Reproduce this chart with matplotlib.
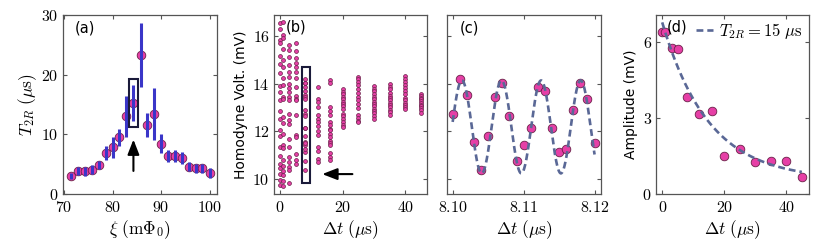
import numpy as np
import matplotlib
matplotlib.use("Agg")
import matplotlib.pyplot as plt
from matplotlib.ticker import FuncFormatter

plt.rcParams['mathtext.fontset'] = 'cm'
plt.rcParams['font.family'] = ['DejaVu Sans']

# ---------------- data ----------------
# (a) T2R vs flux detuning
xi = [71.4, 72.8, 74.3, 75.8, 77.2, 78.6, 80.0, 81.4, 82.8, 84.3, 85.8,
      87.1, 88.6, 90.0, 91.4, 92.8, 94.2, 95.7, 97.1, 98.5, 100.0]
t2r = [3.0, 3.85, 3.8, 4.1, 4.9, 6.9, 7.8, 9.5, 13.0, 15.2, 23.3,
       11.6, 13.4, 8.4, 6.4, 6.4, 6.1, 4.6, 4.3, 4.3, 3.5]
t2r_err = [0.5, 0.6, 0.8, 0.7, 0.7, 1.2, 1.8, 1.4, 3.4, 3.0, 5.3,
           2.0, 4.3, 1.6, 1.0, 1.0, 1.0, 0.8, 0.8, 0.8, 0.9]

# (b) homodyne voltage columns vs delay
dt_cols = [0, 1, 3, 5, 8, 12, 16, 20, 25, 30, 35, 40, 45]
v_col_0 = [16.55, 16.3, 15.85, 15.7, 15.15, 14.85, 14.45, 13.9, 13.65, 13.3,
           12.85, 12.5, 12.05, 11.8, 11.35, 10.95, 10.6, 10.45, 10.2, 9.95, 9.75]
v_col_1 = [16.6, 16.05, 15.95, 15.45, 15.0, 14.7, 14.25, 13.95, 13.45, 13.35,
           12.6, 12.35, 11.9, 11.4, 11.3, 10.8, 10.55, 10.3, 10.15, 9.9, 9.7]
v_col_3 = [15.62, 15.44, 15.13, 14.78, 14.49, 14.28, 14.0, 13.83, 13.65, 13.44,
           13.3, 12.74, 12.46, 12.31, 11.68, 11.33, 10.9, 10.7, 10.49, 10.35, 9.81]
v_col_5 = [15.71, 15.4, 15.09, 14.87, 14.7, 14.49, 14.25, 13.86, 13.5, 13.37,
           13.3, 12.67, 11.82, 11.75, 11.05, 10.8, 10.63]
v_col_8 = [12.74, 14.19, 13.54, 11.56, 10.38, 11.78, 13.43, 14.03, 12.65, 10.73,
           11.43, 12.15, 13.86, 13.71, 12.13, 11.12, 11.23, 12.88, 14.03, 13.34, 11.49]
v_col_12 = [13.86, 13.37, 13.23, 13.02, 12.67, 12.53, 12.39, 12.2, 12.0, 11.82,
            11.33, 11.16, 10.84, 10.7]
v_col_16 = [14.14, 14.02, 13.0, 12.85, 12.67, 12.38, 12.25, 12.1, 12.03, 11.9,
            11.75, 11.6, 11.5, 11.4, 11.06, 10.92, 10.77]
v_col_20 = [13.76, 13.67, 13.58, 13.44, 13.35, 13.25, 13.15, 13.05, 12.95, 12.74,
            12.62, 12.5, 12.4, 12.28, 12.17]
v_col_25 = [14.28, 14.18, 14.06, 13.93, 13.76, 13.6, 13.45, 13.3, 13.15, 12.96,
            12.67, 12.55, 12.45, 12.38]
v_col_30 = [13.9, 13.8, 13.68, 13.55, 13.45, 13.35, 13.25, 13.15, 13.05, 12.95,
            12.85, 12.75, 12.65, 12.53]
v_col_35 = [14.0, 13.88, 13.77, 13.6, 13.5, 13.4, 13.3, 13.2, 13.1, 13.0,
            12.9, 12.8, 12.67]
v_col_40 = [14.31, 14.2, 14.08, 13.95, 13.82, 13.7, 13.55, 13.4, 13.3, 13.2,
            13.1, 13.0, 12.92]
v_col_45 = [13.57, 13.5, 13.42, 13.35, 13.27, 13.2, 13.12, 13.05, 12.97, 12.9, 12.78]
v_cols = [v_col_0, v_col_1, v_col_3, v_col_5, v_col_8, v_col_12, v_col_16,
          v_col_20, v_col_25, v_col_30, v_col_35, v_col_40, v_col_45]

# (c) Ramsey fringe at dt ~ 8.1 us
dt_c = [8.100, 8.101, 8.102, 8.103, 8.104, 8.105, 8.106, 8.107, 8.108, 8.109,
        8.110, 8.111, 8.112, 8.113, 8.114, 8.115, 8.116, 8.117, 8.118, 8.119, 8.120]
v_c = v_col_8
fit_c_offset, fit_c_amp, fit_c_period, fit_c_t0 = 12.18, 1.96, 0.00558, 8.1013

# (d) fringe amplitude vs delay
dt_d = [0, 1, 3, 5, 8, 12, 16, 20, 25, 30, 35, 40, 45]
amp_d = [6.38, 6.38, 5.76, 5.7, 3.81, 3.15, 3.26, 1.48, 1.79, 1.28, 1.30, 1.30, 0.68]
fit_d_A, fit_d_T, fit_d_C = 6.2, 15.0, 0.56

# ---------------- style ----------------
PINK = '#e63fa6'
EDGE = '#6a2048'
DASH = '#5a6896'
ERR = '#3a36c8'
SPINE = '#555555'
MS = 6.2
DASHES = (2.6, 1.5)

fig = plt.figure(figsize=(8.31, 2.44), dpi=100)
H = 0.7336
B = 0.2049
ax_a = fig.add_axes([0.0758, B, 0.1853, H])
ax_b = fig.add_axes([0.3297, B, 0.1841, H])
ax_c = fig.add_axes([0.5379, B, 0.1853, H])
ax_d = fig.add_axes([0.7894, B, 0.1841, H])

mathfmt = FuncFormatter(lambda v, p: f'${v:g}$')
mathfmt2 = FuncFormatter(lambda v, p: f'${v:.2f}$')

for ax in (ax_a, ax_b, ax_c, ax_d):
    ax.tick_params(direction='in', top=True, right=True, labelsize=11.5,
                   length=3, width=0.8, color=SPINE, pad=3)
    ax.tick_params(axis='x', pad=4)
    for s in ax.spines.values():
        s.set_color(SPINE)
        s.set_linewidth(0.9)

# (a)
ax_a.errorbar(xi, t2r, yerr=t2r_err, fmt='none', ecolor=ERR, elinewidth=2.2,
              capsize=0, zorder=3)
ax_a.plot(xi, t2r, 'o', ms=MS, mfc=PINK, mec=EDGE, mew=0.6, zorder=2)
ax_a.set_xlim(69.8, 101.5)
ax_a.set_ylim(0, 30)
ax_a.set_xticks([70, 80, 90, 100])
ax_a.set_yticks([0, 10, 20, 30])
ax_a.xaxis.set_major_formatter(mathfmt)
ax_a.yaxis.set_major_formatter(mathfmt)
ax_a.set_xlabel(r'$\xi\ (\mathrm{m}\Phi_0)$', fontsize=12.5, labelpad=3)
ax_a.set_ylabel(r'$T_{2R}\ (\mu\mathrm{s})$', fontsize=12.5, labelpad=2)
ax_a.text(0.075, 0.97, '(a)', transform=ax_a.transAxes, fontsize=10.5, va='top')
ax_a.add_patch(plt.Rectangle((83.3, 11.2), 1.9, 8.1, fill=False, ec='#1a1a3a',
                             lw=1.5, zorder=4))
ax_a.annotate('', xy=(84.3, 9.6), xytext=(84.3, 3.4),
              arrowprops=dict(arrowstyle='-|>,head_width=0.35,head_length=0.9',
                              color='black', lw=1.5), zorder=5)

# (b)
for t, col in zip(dt_cols, v_cols):
    ax_b.plot([t] * len(col), col, 'o', ms=2.8, mfc=PINK, mec=EDGE, mew=0.5)
ax_b.set_xlim(-1.9, 46.9)
ax_b.set_ylim(9.35, 16.9)
ax_b.set_xticks([0, 20, 40])
ax_b.set_yticks([10, 12, 14, 16])
ax_b.xaxis.set_major_formatter(mathfmt)
ax_b.yaxis.set_major_formatter(mathfmt)
ax_b.set_xlabel(r'$\Delta t\ (\mu\mathrm{s})$', fontsize=12.5, labelpad=3)
ax_b.set_ylabel('Homodyne Volt. (mV)', fontsize=10, labelpad=3)
ax_b.text(0.075, 0.975, '(b)', transform=ax_b.transAxes, fontsize=10.5, va='top')
ax_b.add_patch(plt.Rectangle((7.0, 9.83), 2.5, 4.87, fill=False, ec='#1a1a3a',
                             lw=1.5, zorder=4))
ax_b.annotate('', xy=(12.6, 10.19), xytext=(24.0, 10.19),
              arrowprops=dict(arrowstyle='-|>,head_width=0.35,head_length=0.9',
                              color='black', lw=1.5), zorder=5)

# (c)
tc = np.linspace(8.100, 8.120, 400)
fit_c = fit_c_offset + fit_c_amp * np.cos(2 * np.pi * (tc - fit_c_t0) / fit_c_period)
ax_c.plot(dt_c, v_c, 'o', ms=MS, mfc=PINK, mec=EDGE, mew=0.6, zorder=2)
ax_c.plot(tc, fit_c, '--', color=DASH, lw=1.9, dashes=DASHES, zorder=3)
ax_c.set_xlim(8.0992, 8.1209)
ax_c.set_ylim(9.35, 16.9)
ax_c.set_xticks([8.10, 8.11, 8.12])
ax_c.set_yticks([10, 12, 14, 16])
ax_c.xaxis.set_major_formatter(mathfmt2)
ax_c.set_yticklabels([])
ax_c.set_xlabel(r'$\Delta t\ (\mu\mathrm{s})$', fontsize=12.5, labelpad=3)
ax_c.text(0.085, 0.97, '(c)', transform=ax_c.transAxes, fontsize=10.5, va='top')

# (d)
td = np.linspace(0, 45, 300)
fit_d = fit_d_A * np.exp(-td / fit_d_T) + fit_d_C
ax_d.plot(dt_d, amp_d, 'o', ms=MS, mfc=PINK, mec=EDGE, mew=0.6, zorder=2)
ax_d.plot(td, fit_d, '--', color=DASH, lw=1.9, dashes=DASHES, zorder=3,
          label=r'$T_{2R}=15\ \mu\mathrm{s}$')
ax_d.set_xlim(-2.0, 47.3)
ax_d.set_ylim(0, 7.05)
ax_d.set_xticks([0, 20, 40])
ax_d.set_yticks([0, 3, 6])
ax_d.xaxis.set_major_formatter(mathfmt)
ax_d.yaxis.set_major_formatter(mathfmt)
ax_d.set_xlabel(r'$\Delta t\ (\mu\mathrm{s})$', fontsize=12.5, labelpad=3)
ax_d.set_ylabel('Amplitude (mV)', fontsize=10, labelpad=3)
ax_d.text(0.07, 0.975, '(d)', transform=ax_d.transAxes, fontsize=10.5, va='top')
ax_d.legend(loc='upper right', frameon=False, fontsize=12, handlelength=1.0,
            handletextpad=0.4, borderaxespad=0.15, borderpad=0.2)

fig.savefig('out.png', dpi=100)
